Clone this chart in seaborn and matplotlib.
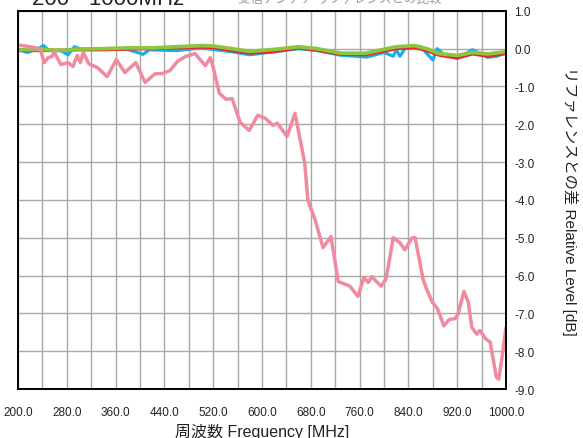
import numpy as np
import pandas as pd
import matplotlib
matplotlib.use('Agg')
import matplotlib.pyplot as plt
from matplotlib.ticker import MultipleLocator, FormatStrFormatter
import seaborn as sns

# ---- data ----
pink_freq = [200, 220, 236, 243, 249, 256, 259, 270, 282, 290, 297, 302, 307, 316,
             330, 346, 361, 375, 393, 408, 425, 436, 449, 461, 474, 490, 507, 515,
             520, 530, 541, 551, 564, 579, 593, 605, 618, 625, 641, 654, 670, 675,
             687, 700, 713, 725, 738, 744, 757, 767, 774, 780, 795, 803, 808, 815,
             826, 834, 846, 851, 864, 870, 879, 888, 898, 907, 916, 921, 931, 938,
             944, 952, 957, 967, 974, 984, 988, 993, 1000]
pink_db = [0.1, 0.05, 0.0, -0.37, -0.24, -0.2, -0.08, -0.42, -0.37, -0.47, -0.18, -0.37,
           -0.1, -0.4, -0.5, -0.74, -0.29, -0.63, -0.37, -0.89, -0.66, -0.66, -0.58,
           -0.34, -0.21, -0.13, -0.45, -0.24, -0.5, -1.18, -1.34, -1.32, -1.95, -2.16,
           -1.76, -1.84, -2.03, -1.97, -2.32, -1.71, -3.03, -4.0, -4.53, -5.26, -4.97,
           -6.16, -6.24, -6.28, -6.55, -6.05, -6.18, -6.03, -6.28, -6.1, -5.66, -5.0,
           -5.13, -5.32, -5.0, -5.0, -6.1, -6.37, -6.7, -6.89, -7.33, -7.16, -7.14,
           -7.03, -6.42, -6.7, -7.37, -7.55, -7.45, -7.68, -7.76, -8.68, -8.74, -8.2,
           -7.37]

ref_freq = [200, 240, 270, 300, 340, 380, 420, 460, 500, 520, 550, 580, 620, 660,
            690, 730, 770, 790, 820, 850, 870, 890, 920, 945, 970, 1000]
green_db = [-0.03, -0.02, -0.05, -0.01, 0.0, 0.02, 0.02, 0.05, 0.08, 0.07, 0.0, -0.07,
            -0.02, 0.05, 0.0, -0.12, -0.12, -0.05, 0.05, 0.08, 0.0, -0.13, -0.18, -0.1,
            -0.14, -0.08]
red_db = [-0.05, -0.05, -0.04, -0.03, -0.03, -0.01, 0.0, 0.02, 0.04, 0.03, -0.05, -0.12,
          -0.08, 0.02, -0.04, -0.15, -0.16, -0.1, 0.0, 0.03, -0.05, -0.17, -0.25, -0.14,
          -0.2, -0.13]

blue_freq = [200, 215, 230, 242, 250, 270, 282, 292, 305, 340, 380, 405, 415, 460, 500,
             520, 550, 580, 620, 660, 690, 728, 772, 800, 815, 820, 826, 835, 860, 880,
             887, 900, 920, 945, 970, 985, 1000]
blue_db = [-0.02, -0.1, -0.02, 0.08, -0.05, -0.05, -0.16, 0.05, -0.02, -0.02, -0.02,
           -0.15, -0.03, -0.05, 0.02, -0.02, -0.08, -0.16, -0.08, 0.0, -0.05, -0.17,
           -0.22, -0.1, -0.2, -0.03, -0.2, 0.02, 0.05, -0.3, 0.0, -0.18, -0.25, -0.03,
           -0.23, -0.2, -0.1]

x_ticks = np.arange(200, 1001, 80)
y_ticks = np.arange(-9, 2, 1)

sns.set_style('white')
plt.rcParams['font.family'] = ['Liberation Sans', 'Noto Sans CJK JP', 'DejaVu Sans']

fig = plt.figure(figsize=(5.83, 4.39), dpi=100)
ax = fig.add_axes([0.031, 0.1116, 0.837, 0.8614])

lw = 2.3
sns.lineplot(x=blue_freq, y=blue_db, color='#1aaee8', lw=lw, estimator=None, ax=ax)
sns.lineplot(x=ref_freq, y=red_db, color='#e8262b', lw=lw, estimator=None, ax=ax)
sns.lineplot(x=ref_freq, y=green_db, color='#8cc63e', lw=lw + 0.4, estimator=None, ax=ax)
sns.lineplot(x=pink_freq, y=pink_db, color='#f08a9f', lw=lw + 0.2, estimator=None, ax=ax)

ax.set_xlim(200, 1000)
ax.set_ylim(-9, 1)
ax.set_xticks(x_ticks)
ax.xaxis.set_minor_locator(MultipleLocator(40))
ax.set_yticks(y_ticks)
ax.xaxis.set_major_formatter(FormatStrFormatter('%.1f'))
ax.yaxis.set_major_formatter(FormatStrFormatter('%.1f'))
ax.yaxis.tick_right()
ax.yaxis.set_label_position('right')
ax.tick_params(axis='both', which='both', length=0, labelsize=8.5, colors='#222222')
ax.tick_params(axis='x', pad=12)
ax.tick_params(axis='y', pad=6)

ax.grid(True, which='both', color='#a8a8a8', lw=1.0)
ax.set_axisbelow(True)
for s in ax.spines.values():
    s.set_color('black')
    s.set_linewidth(1.4)

ax.set_xlabel('周波数 Frequency [MHz]', fontsize=11.5, color='#222222', labelpad=4)
ax.set_ylabel('リファレンスとの差 Relative Level [dB]', fontsize=11, color='#222222',
              rotation=-90, ha='center', va='center')
ax.yaxis.set_label_coords(1.131, 0.5)

# title text, cut off at the top edge like the reference
fig.text(0.055, 0.9886, '200 - 1000MHz', fontsize=16, color='#222222', va='baseline')
fig.text(0.408, 0.993, '受信アンテナ リファレンスとの比較', fontsize=9, color='#999999',
         va='baseline')

fig.savefig('out.png', dpi=100)
